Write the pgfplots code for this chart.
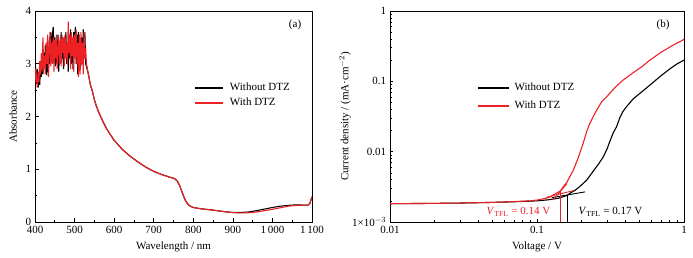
\documentclass[border=0pt]{standalone}
\usepackage{pgfplots}
\pgfplotsset{compat=1.18}
\usepackage{fontspec}
\setmainfont{Liberation Serif}
\definecolor{myred}{RGB}{237,32,36}
\begin{document}
\fontsize{11bp}{13bp}\selectfont
\begin{tikzpicture}
\useasboundingbox (0,0) rectangle (693bp,258bp);
\pgfplotsset{
  every axis/.append style={
    scale only axis,
    /pgf/number format/assume math mode=true,
    tick align=inside,
    tick pos=left,
    major tick length=3.5bp,
    minor tick length=2bp,
    axis line style={line width=0.8bp},
    every tick/.style={black, line width=0.6bp},
    tick label style={font=\fontsize{11bp}{13bp}\selectfont},
    label style={font=\fontsize{11bp}{13bp}\selectfont},
    legend style={draw=none, fill=none, font=\fontsize{11bp}{13bp}\selectfont,
      legend cell align=left, inner sep=0pt,
      nodes={inner sep=0pt, text height=8bp, text depth=2.5bp}},
  },
}
% ---------------- (a) ----------------
\begin{axis}[
  at={(35bp,36bp)}, anchor=south west,
  width=277bp, height=211bp,
  xmin=400, xmax=1100, ymin=0, ymax=4,
  xtick={400,500,600,700,800,900,1000,1100},
  xticklabels={400,500,600,700,800,900,1\,000,1\,100},
  ytick={0,1,2,3,4},
  minor x tick num=1, minor y tick num=1,
  xlabel={Wavelength / nm},
  ylabel={Absorbance},
  xlabel style={at={(axis description cs:0.5,-0.118)}, anchor=center},
  ylabel style={at={(axis description cs:-0.079,0.5)}, anchor=center, rotate=0},
  legend image code/.code={\draw[#1, line width=1.8bp] (0bp,0bp) -- (28bp,0bp);},
  legend style={at={(axis description cs:0.574,0.5995)}, anchor=west,
    row sep=4.5bp, column sep=6bp},
]
\addplot[black, line width=1.1bp] coordinates {
(400,2.75)(402,2.85)(404,2.62)(406,2.9)(408,2.55)(410,2.8)(412,2.6)(414,3.0)(416,2.75)(418,3.1)
(420,2.8)(422,3.2)(424,2.9)(426,3.35)(428,3.0)(430,2.78)(432,3.3)(434,2.85)(436,3.45)(438,3.0)
(440,3.6)(442,3.1)(444,3.55)(446,3.7)(448,3.2)(450,3.5)(452,2.95)(454,3.4)(456,3.0)(458,3.55)
(460,2.85)(462,3.3)(464,3.0)(466,3.6)(468,3.1)(470,3.45)(472,2.9)(474,3.5)(476,3.2)(478,3.6)
(480,3.0)(482,3.4)(484,2.85)(486,3.55)(488,3.1)(490,3.65)(492,3.0)(494,3.45)(496,2.9)(498,3.6)
(500,3.25)(502,3.7)(504,3.0)(506,3.55)(508,2.8)(510,3.6)(512,3.2)(514,3.45)(516,2.95)(518,3.5)
(520,3.05)(522,3.65)(524,3.1)(526,3.6)(528,3.0)(530,2.95)
(535,2.8)(540,2.6)(545,2.48)(550,2.32)(555,2.2)(560,2.1)(570,1.93)(580,1.78)(590,1.66)(600,1.55)
(620,1.38)(640,1.25)(660,1.14)(680,1.04)(700,0.96)(720,0.9)(740,0.85)(750,0.83)(755,0.81)(760,0.77)
(765,0.7)(770,0.6)(775,0.5)(780,0.41)(785,0.35)(790,0.31)(800,0.275)(820,0.25)(850,0.225)(880,0.195)
(900,0.18)(920,0.18)(940,0.19)(960,0.215)(980,0.245)(1000,0.275)(1020,0.3)(1040,0.315)(1060,0.325)
(1080,0.32)(1090,0.32)(1095,0.36)(1100,0.48)
};
\addlegendentry{Without DTZ}
\addplot[myred, line width=1.1bp] coordinates {
(400,2.65)(402,2.9)(404,2.7)(406,2.55)(408,2.85)(410,2.65)(412,3.05)(414,2.8)(416,3.2)(418,2.85)
(420,3.5)(422,2.9)(424,3.15)(426,2.8)(428,3.4)(430,3.0)(432,3.55)(434,2.75)(436,3.3)(438,3.6)
(440,2.95)(442,3.4)(444,3.0)(446,3.5)(448,2.85)(450,3.45)(452,3.1)(454,3.55)(456,2.9)(458,3.3)
(460,3.5)(462,3.0)(464,3.45)(466,2.95)(468,3.55)(470,3.2)(472,3.5)(474,2.95)(476,3.55)(478,3.1)
(480,3.4)(482,3.0)(484,3.8)(486,3.2)(488,3.55)(490,2.9)(492,3.6)(494,3.15)(496,3.5)(498,2.85)
(500,3.55)(502,3.1)(504,3.65)(506,3.0)(508,3.4)(510,2.75)(512,3.55)(514,2.8)(516,3.6)(518,3.0)
(520,3.4)(522,2.8)(524,3.6)(526,3.1)(528,3.3)(530,3.0)
(535,2.8)(540,2.6)(545,2.48)(550,2.32)(555,2.2)(560,2.1)(570,1.93)(580,1.78)(590,1.66)(600,1.55)
(620,1.38)(640,1.25)(660,1.14)(680,1.04)(700,0.96)(720,0.9)(740,0.85)(750,0.83)(755,0.81)(760,0.77)
(765,0.7)(770,0.6)(775,0.5)(780,0.41)(785,0.35)(790,0.31)(800,0.275)(820,0.25)(850,0.225)(880,0.195)
(900,0.178)(920,0.172)(940,0.175)(960,0.19)(980,0.215)(1000,0.24)(1020,0.27)(1040,0.3)(1060,0.315)
(1080,0.32)(1090,0.32)(1095,0.36)(1100,0.48)
};
\addlegendentry{With DTZ}
\node[anchor=center] at (axis description cs:0.939,0.934) {(a)};
\end{axis}
% ---------------- (b) ----------------
\begin{axis}[
  at={(390bp,36bp)}, anchor=south west,
  width=294bp, height=211bp,
  xmode=log, ymode=log,
  xmin=0.01, xmax=1, ymin=0.001, ymax=1,
  xtick={0.01,0.1,1}, xticklabels={0.01,0.1,1},
  ytick={0.001,0.01,0.1,1}, yticklabels={1×10$^{-3}$,0.01,0.1,1},
  xlabel={Voltage / V},
  ylabel={Current density / (mA·cm$^{-2}$)},
  xlabel style={at={(axis description cs:0.5,-0.118)}, anchor=center},
  ylabel style={at={(axis description cs:-0.153,0.5)}, anchor=center, rotate=0},
  legend image code/.code={\draw[#1, line width=1.4bp] (0bp,0bp) -- (31bp,0bp);},
  legend style={at={(axis description cs:0.296,0.592)}, anchor=west,
    row sep=7.5bp, column sep=5bp},
]
\addplot[black, line width=1.1bp] coordinates {
(0.01,0.00182)(0.02,0.00184)(0.03,0.00186)(0.05,0.0019)(0.07,0.00194)(0.09,0.00198)(0.1,0.002)
(0.12,0.00207)(0.14,0.00218)(0.16,0.00238)(0.168,0.00257)(0.18,0.0028)(0.196,0.0032)(0.218,0.00395)
(0.24,0.0052)(0.26,0.0065)(0.283,0.0085)(0.30,0.011)(0.315,0.0145)(0.33,0.0185)(0.348,0.0227)
(0.365,0.0300)(0.385,0.0375)(0.407,0.0437)(0.45,0.056)(0.502,0.0676)(0.6,0.092)(0.687,0.117)
(0.8,0.15)(0.9,0.178)(1.0,0.2)
};
\addlegendentry{Without DTZ}
\addplot[myred, line width=1.1bp] coordinates {
(0.01,0.00182)(0.02,0.00184)(0.03,0.00186)(0.05,0.0019)(0.07,0.00195)(0.09,0.002)(0.1,0.00205)
(0.12,0.00222)(0.1436,0.00275)(0.16,0.0037)(0.177,0.0055)(0.19,0.0080)(0.206,0.0131)(0.218,0.0195)
(0.229,0.0253)(0.242,0.0320)(0.255,0.039)(0.275,0.051)(0.298,0.0605)(0.34,0.082)(0.387,0.105)
(0.45,0.132)(0.52,0.163)(0.587,0.201)(0.7,0.26)(0.85,0.33)(1.0,0.394)
};
\addlegendentry{With DTZ}
% tangent and V_TFL lines
\addplot[black, line width=0.9bp, forget plot] coordinates {(0.126,0.00222)(0.212,0.00268)};
\addplot[myred, line width=0.9bp, forget plot] coordinates {(0.128,0.00205)(0.16,0.0035)};
\addplot[myred, line width=0.9bp, forget plot] coordinates {(0.115,0.00224)(0.178,0.0028)};
\addplot[myred, line width=1.1bp, forget plot] coordinates {(0.1436,0.001)(0.1436,0.0027)};
\addplot[black, line width=1.1bp, forget plot] coordinates {(0.162,0.001)(0.162,0.0024)};
\node[anchor=east, text=myred, xshift=-6bp] at (axis cs:0.1436,0.00139) {\textit{V}\textsubscript{TFL} = 0.14 V};
\node[anchor=west, xshift=7bp] at (axis cs:0.162,0.00139) {\textit{V}\textsubscript{TFL} = 0.17 V};
\node[anchor=center] at (axis description cs:0.929,0.934) {(b)};
\end{axis}
\end{tikzpicture}
\end{document}
